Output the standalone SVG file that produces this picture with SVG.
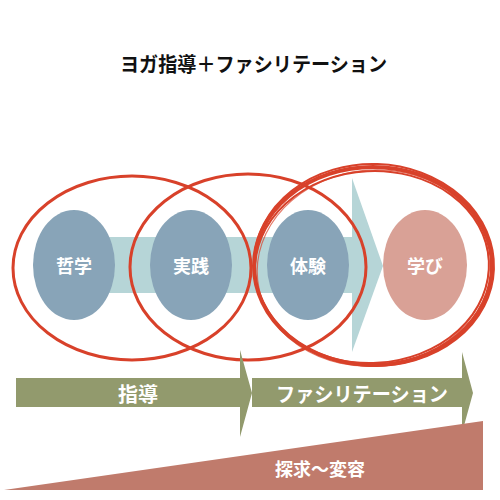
<svg xmlns="http://www.w3.org/2000/svg" width="500" height="500" viewBox="0 0 500 500">
<style>
.title{font-family:"Noto Sans CJK JP","Liberation Sans",sans-serif;font-weight:bold;font-size:20px;fill:#111111}
.blob{fill:#88a4b8}
.lbl{font-family:"Noto Sans CJK JP",sans-serif;font-weight:bold;font-size:18px;fill:#ffffff;text-anchor:middle;dominant-baseline:central}
.ring{fill:none;stroke:#d8412a;stroke-width:3}
.rough{fill:none;stroke:#d8412a}
.green{fill:#929a6d}
.wt{font-family:"Noto Sans CJK JP",sans-serif;font-weight:bold;fill:#ffffff;text-anchor:middle;dominant-baseline:central}
</style>
<rect width="500" height="500" fill="#ffffff"/>
<text class="title" x="120" y="72" textLength="267" lengthAdjust="spacingAndGlyphs">ヨガ指導＋ファシリテーション</text>

<g id="flow-arrow">
<rect x="60" y="237" width="293" height="56" fill="#b6d5d7"/>
<polygon points="352,178 383,266 352,352" fill="#b6d5d7"/>
</g>

<g id="node-tetsugaku">
<ellipse class="blob" cx="74" cy="265" rx="41" ry="55"/>
<text class="lbl" x="74" y="265">哲学</text>
</g>
<g id="node-jissen">
<ellipse class="blob" cx="191" cy="265" rx="41" ry="55"/>
<text class="lbl" x="191" y="265">実践</text>
</g>
<g id="node-taiken">
<ellipse class="blob" cx="308" cy="265" rx="41" ry="55"/>
<text class="lbl" x="308" y="265">体験</text>
</g>
<g id="node-manabi">
<ellipse cx="425" cy="265" rx="42" ry="55" fill="#d9a196"/>
<text class="lbl" x="425" y="265">学び</text>
</g>

<g id="rings">
<ellipse class="ring" cx="132" cy="268" rx="119" ry="92"/>
<ellipse class="ring" cx="248" cy="267" rx="118" ry="93"/>
<g id="ring-rough">
<ellipse class="rough" stroke-width="4" cx="373" cy="266" rx="119" ry="99"/>
<ellipse class="rough" stroke-width="2" cx="372" cy="267" rx="117" ry="96" transform="rotate(-3 372 267)"/>
<ellipse class="rough" stroke-width="2" cx="374" cy="265" rx="120" ry="101" transform="rotate(2 374 265)"/>
<ellipse class="rough" stroke-width="1.2" stroke-opacity="0.7" cx="373" cy="268" rx="116" ry="98" transform="rotate(-6 373 268)"/>
</g>
</g>

<g id="shidou">
<polygon class="green" points="16,378 240,378 240,350 252,393 240,437 240,407 16,407"/>
<text class="wt" x="138" y="393" font-size="20">指導</text>
</g>
<g id="facilitation">
<polygon class="green" points="252,378 462,378 462,352 473,393 462,433 462,407 252,407"/>
<text class="wt" x="362" y="393" font-size="20" textLength="172" lengthAdjust="spacingAndGlyphs">ファシリテーション</text>
</g>

<g id="tankyu">
<polygon points="4,490 483,421 483,490" fill="#c07b6c"/>
<text class="wt" x="320" y="468" font-size="18">探求〜変容</text>
</g>
</svg>
